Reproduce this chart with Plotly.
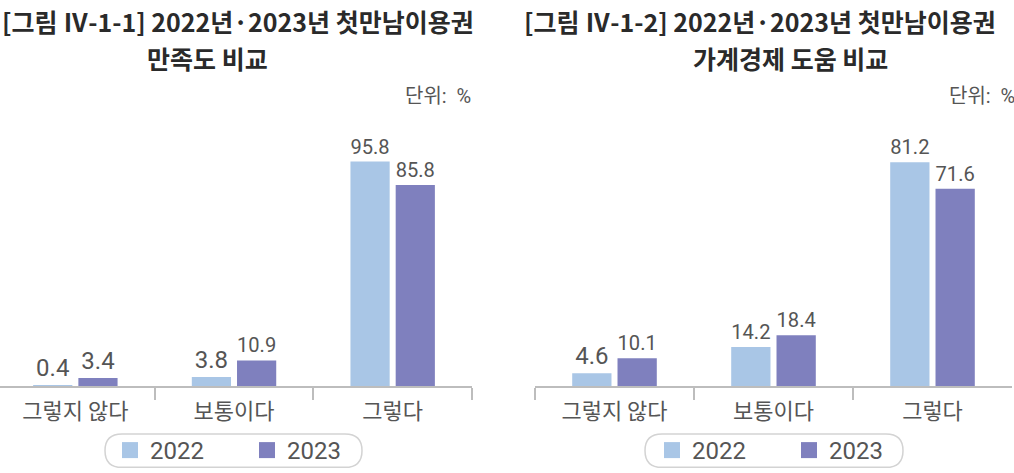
import plotly.graph_objects as go

W, H = 1014, 473
categories = ["그렇지 않다", "보통이다", "그렇다"]
years = ["2022", "2023"]
sat_2022 = [0.4, 3.8, 95.8]
sat_2023 = [3.4, 10.9, 85.8]
econ_2022 = [4.6, 14.2, 81.2]
econ_2023 = [10.1, 18.4, 71.6]

colors = {"2022": "#A9C6E6", "2023": "#7F80BE"}
TXT = "#555555"
KFONT = "Noto Sans CJK KR"
NFONT = "Roboto, Noto Sans CJK KR"

# plot area in pixels
T, B = 140, 391
PH = B - T


def py(y):
    return (B - y) / PH


def px(x):
    return x / W


fig = go.Figure()
for name, vals, xa, ya, lg in [
    ("2022", sat_2022, "x", "y", "legend"),
    ("2023", sat_2023, "x", "y", "legend"),
    ("2022", econ_2022, "x2", "y2", "legend2"),
    ("2023", econ_2023, "x2", "y2", "legend2"),
]:
    fig.add_trace(go.Bar(
        x=categories, y=vals, name=name, xaxis=xa, yaxis=ya,
        marker=dict(color=colors[name], line=dict(width=0)),
        text=[f"{v:.1f}" for v in vals], textposition="outside",
        textfont=dict(family=NFONT, size=24, color=TXT),
        cliponaxis=False, showlegend=False,
    ))
    fig.add_trace(go.Scatter(
        x=[None], y=[None], mode="markers", name=name, xaxis=xa, yaxis=ya,
        marker=dict(symbol="square", size=16, color=colors[name]),
        legend=lg, showlegend=True,
    ))

axis_common = dict(
    showline=True, linecolor="#BDBDBD", linewidth=2,
    ticks="outside", tickson="boundaries", ticklen=12, tickcolor="#BDBDBD", tickwidth=2,
    ticklabelstandoff=5,
    tickfont=dict(family=KFONT, size=22, color=TXT),
    showgrid=False, zeroline=False, fixedrange=True,
)
yaxis_common = dict(visible=False, showgrid=False, zeroline=False, fixedrange=True)

fig.update_layout(
    width=W, height=H,
    margin=dict(l=0, r=0, t=T, b=H - B, pad=0),
    paper_bgcolor="white", plot_bgcolor="white",
    barmode="group", bargap=0.43, bargroupgap=0.133,
    xaxis=dict(domain=[0, px(472)], range=[-0.475, 2.5], anchor="y", **axis_common),
    yaxis=dict(domain=[0, 1], range=[0, PH / 2.39], anchor="x", **yaxis_common),
    xaxis2=dict(domain=[px(535), px(1012)], range=[-0.5, 2.5], anchor="y2", **axis_common),
    yaxis2=dict(domain=[0, 1], range=[0, PH / 2.81], anchor="x2", **yaxis_common),
    legend=dict(orientation="h", x=px(110), xanchor="left", y=py(457), yanchor="middle",
                font=dict(family=NFONT, size=24, color=TXT), bgcolor="rgba(0,0,0,0)",
                entrywidth=92, entrywidthmode="pixels", itemclick=False, itemdoubleclick=False),
    legend2=dict(orientation="h", x=px(652), xanchor="left", y=py(457), yanchor="middle",
                 font=dict(family=NFONT, size=24, color=TXT), bgcolor="rgba(0,0,0,0)",
                 entrywidth=92, entrywidthmode="pixels", itemclick=False, itemdoubleclick=False),
)


def rounded_rect(x0, y0, x1, y1, r):
    pts = [
        f"M {px(x0 + r)},{py(y0)}",
        f"L {px(x1 - r)},{py(y0)}",
        f"Q {px(x1)},{py(y0)} {px(x1)},{py(y0 + r)}",
        f"L {px(x1)},{py(y1 - r)}",
        f"Q {px(x1)},{py(y1)} {px(x1 - r)},{py(y1)}",
        f"L {px(x0 + r)},{py(y1)}",
        f"Q {px(x0)},{py(y1)} {px(x0)},{py(y1 - r)}",
        f"L {px(x0)},{py(y0 + r)}",
        f"Q {px(x0)},{py(y0)} {px(x0 + r)},{py(y0)} Z",
    ]
    return " ".join(pts)


for x0, x1 in [(105, 362), (645, 903)]:
    fig.add_shape(type="path", xref="paper", yref="paper",
                  path=rounded_rect(x0, 440, x1, 474, 17),
                  line=dict(color="#D3D3D3", width=1.5), fillcolor="rgba(0,0,0,0)", layer="below")

titles = [
    ("[그림 Ⅳ-1-1] 2022년·2023년 첫만남이용권", 0, 19, "left"),
    ("만족도 비교", 207, 56, "center"),
    ("[그림 Ⅳ-1-2] 2022년·2023년 첫만남이용권", 522, 19, "left"),
    ("가계경제 도움 비교", 790, 56, "center"),
]
for txt, x, y, anc in titles:
    fig.add_annotation(text=f"<b>{txt}</b>", x=px(x), y=py(y), xref="paper", yref="paper",
                       xanchor=anc, yanchor="middle", showarrow=False,
                       font=dict(family=KFONT, size=25, color="#2A2A2A"))

for x in [403, 947]:
    fig.add_annotation(text="단위:  %", x=px(x), y=py(95), xref="paper", yref="paper",
                       xanchor="left", yanchor="middle", showarrow=False,
                       font=dict(family=NFONT, size=20, color=TXT))

fig.write_html(
    "out.html",
    post_script="document.body.style.margin='0';document.body.style.overflow='hidden';"
                "document.documentElement.style.overflow='hidden';",
)
